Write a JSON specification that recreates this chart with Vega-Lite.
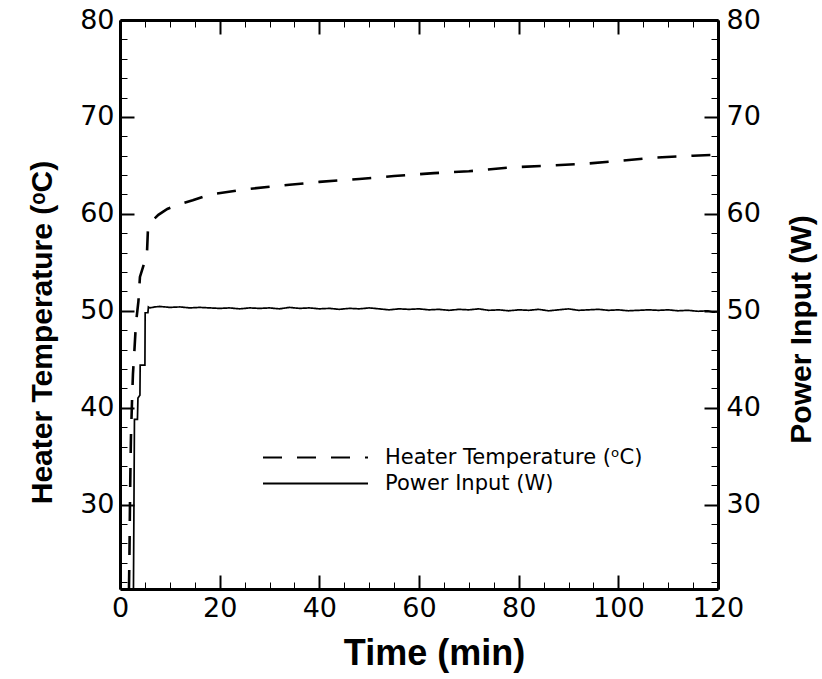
{
  "$schema": "https://vega.github.io/schema/vega-lite/v6.json",
  "width": 598,
  "height": 569,
  "autosize": {"type": "none"},
  "padding": {"left": 120, "top": 20, "right": 104, "bottom": 90},
  "background": "white",
  "config": {
    "view": {"stroke": null},
    "axis": {
      "domainColor": "black", "domainWidth": 3, "tickColor": "black",
      "labelColor": "black", "titleColor": "black", "grid": false,
      "labelFont": "DejaVu Sans", "labelFontSize": 27,
      "titleFont": "Liberation Sans", "titleFontSize": 30, "titleFontWeight": "bold"
    }
  },
  "data": {"values": [
    {"series": "Heater Temperature (ᵒC)", "time": 1.8, "value": 21.3},
    {"series": "Heater Temperature (ᵒC)", "time": 1.9, "value": 25},
    {"series": "Heater Temperature (ᵒC)", "time": 2.0, "value": 30},
    {"series": "Heater Temperature (ᵒC)", "time": 2.1, "value": 34},
    {"series": "Heater Temperature (ᵒC)", "time": 2.2, "value": 37},
    {"series": "Heater Temperature (ᵒC)", "time": 2.4, "value": 40.5},
    {"series": "Heater Temperature (ᵒC)", "time": 2.6, "value": 43.5},
    {"series": "Heater Temperature (ᵒC)", "time": 2.9, "value": 46},
    {"series": "Heater Temperature (ᵒC)", "time": 3.2, "value": 48.7},
    {"series": "Heater Temperature (ᵒC)", "time": 3.7, "value": 51},
    {"series": "Heater Temperature (ᵒC)", "time": 4.0, "value": 53.5},
    {"series": "Heater Temperature (ᵒC)", "time": 5.4, "value": 55.8},
    {"series": "Heater Temperature (ᵒC)", "time": 5.6, "value": 58.3},
    {"series": "Heater Temperature (ᵒC)", "time": 6.5, "value": 59.3},
    {"series": "Heater Temperature (ᵒC)", "time": 7.7, "value": 59.9},
    {"series": "Heater Temperature (ᵒC)", "time": 9.5, "value": 60.5},
    {"series": "Heater Temperature (ᵒC)", "time": 11.4, "value": 60.9},
    {"series": "Heater Temperature (ᵒC)", "time": 14.6, "value": 61.4},
    {"series": "Heater Temperature (ᵒC)", "time": 18, "value": 62.0},
    {"series": "Heater Temperature (ᵒC)", "time": 24.7, "value": 62.5},
    {"series": "Heater Temperature (ᵒC)", "time": 30, "value": 62.8},
    {"series": "Heater Temperature (ᵒC)", "time": 34, "value": 63.0},
    {"series": "Heater Temperature (ᵒC)", "time": 40, "value": 63.3},
    {"series": "Heater Temperature (ᵒC)", "time": 48, "value": 63.6},
    {"series": "Heater Temperature (ᵒC)", "time": 55, "value": 63.9},
    {"series": "Heater Temperature (ᵒC)", "time": 63, "value": 64.2},
    {"series": "Heater Temperature (ᵒC)", "time": 70, "value": 64.4},
    {"series": "Heater Temperature (ᵒC)", "time": 78.7, "value": 64.8},
    {"series": "Heater Temperature (ᵒC)", "time": 86.7, "value": 65.0},
    {"series": "Heater Temperature (ᵒC)", "time": 94, "value": 65.2},
    {"series": "Heater Temperature (ᵒC)", "time": 101, "value": 65.5},
    {"series": "Heater Temperature (ᵒC)", "time": 107, "value": 65.8},
    {"series": "Heater Temperature (ᵒC)", "time": 115, "value": 66.0},
    {"series": "Heater Temperature (ᵒC)", "time": 120, "value": 66.1},
    {"series": "Power Input (W)", "time": 2.7, "value": 21.3},
    {"series": "Power Input (W)", "time": 2.8, "value": 30},
    {"series": "Power Input (W)", "time": 2.9, "value": 38.8},
    {"series": "Power Input (W)", "time": 3.5, "value": 38.8},
    {"series": "Power Input (W)", "time": 3.6, "value": 41.0},
    {"series": "Power Input (W)", "time": 4.0, "value": 41.3},
    {"series": "Power Input (W)", "time": 4.05, "value": 44.4},
    {"series": "Power Input (W)", "time": 5.0, "value": 44.4},
    {"series": "Power Input (W)", "time": 5.05, "value": 49.8},
    {"series": "Power Input (W)", "time": 5.6, "value": 49.8},
    {"series": "Power Input (W)", "time": 5.7, "value": 50.4},
    {"series": "Power Input (W)", "time": 6, "value": 50.3},
    {"series": "Power Input (W)", "time": 7, "value": 50.4},
    {"series": "Power Input (W)", "time": 8, "value": 50.45},
    {"series": "Power Input (W)", "time": 10, "value": 50.35},
    {"series": "Power Input (W)", "time": 12, "value": 50.4},
    {"series": "Power Input (W)", "time": 14, "value": 50.3},
    {"series": "Power Input (W)", "time": 16, "value": 50.35},
    {"series": "Power Input (W)", "time": 18, "value": 50.3},
    {"series": "Power Input (W)", "time": 20, "value": 50.25},
    {"series": "Power Input (W)", "time": 22, "value": 50.3},
    {"series": "Power Input (W)", "time": 24, "value": 50.2},
    {"series": "Power Input (W)", "time": 26, "value": 50.3},
    {"series": "Power Input (W)", "time": 28, "value": 50.25},
    {"series": "Power Input (W)", "time": 30, "value": 50.3},
    {"series": "Power Input (W)", "time": 32, "value": 50.2},
    {"series": "Power Input (W)", "time": 34, "value": 50.35},
    {"series": "Power Input (W)", "time": 36, "value": 50.25},
    {"series": "Power Input (W)", "time": 38, "value": 50.3},
    {"series": "Power Input (W)", "time": 40, "value": 50.2},
    {"series": "Power Input (W)", "time": 42, "value": 50.25},
    {"series": "Power Input (W)", "time": 44, "value": 50.15},
    {"series": "Power Input (W)", "time": 46, "value": 50.25},
    {"series": "Power Input (W)", "time": 48, "value": 50.2},
    {"series": "Power Input (W)", "time": 50, "value": 50.3},
    {"series": "Power Input (W)", "time": 52, "value": 50.2},
    {"series": "Power Input (W)", "time": 54, "value": 50.1},
    {"series": "Power Input (W)", "time": 56, "value": 50.2},
    {"series": "Power Input (W)", "time": 58, "value": 50.15},
    {"series": "Power Input (W)", "time": 60, "value": 50.2},
    {"series": "Power Input (W)", "time": 62, "value": 50.1},
    {"series": "Power Input (W)", "time": 64, "value": 50.15},
    {"series": "Power Input (W)", "time": 66, "value": 50.05},
    {"series": "Power Input (W)", "time": 68, "value": 50.15},
    {"series": "Power Input (W)", "time": 70, "value": 50.1},
    {"series": "Power Input (W)", "time": 72, "value": 50.2},
    {"series": "Power Input (W)", "time": 74, "value": 50.05},
    {"series": "Power Input (W)", "time": 76, "value": 50.1},
    {"series": "Power Input (W)", "time": 78, "value": 50.0},
    {"series": "Power Input (W)", "time": 80, "value": 50.1},
    {"series": "Power Input (W)", "time": 82, "value": 50.05},
    {"series": "Power Input (W)", "time": 84, "value": 50.15},
    {"series": "Power Input (W)", "time": 86, "value": 50.0},
    {"series": "Power Input (W)", "time": 88, "value": 50.1},
    {"series": "Power Input (W)", "time": 90, "value": 50.2},
    {"series": "Power Input (W)", "time": 92, "value": 50.05},
    {"series": "Power Input (W)", "time": 94, "value": 50.1},
    {"series": "Power Input (W)", "time": 96, "value": 50.15},
    {"series": "Power Input (W)", "time": 98, "value": 50.05},
    {"series": "Power Input (W)", "time": 100, "value": 50.1},
    {"series": "Power Input (W)", "time": 102, "value": 50.0},
    {"series": "Power Input (W)", "time": 104, "value": 50.05},
    {"series": "Power Input (W)", "time": 106, "value": 50.1},
    {"series": "Power Input (W)", "time": 108, "value": 50.05},
    {"series": "Power Input (W)", "time": 110, "value": 50.1},
    {"series": "Power Input (W)", "time": 112, "value": 50.0},
    {"series": "Power Input (W)", "time": 114, "value": 50.05},
    {"series": "Power Input (W)", "time": 116, "value": 49.95},
    {"series": "Power Input (W)", "time": 118, "value": 50.0},
    {"series": "Power Input (W)", "time": 119, "value": 49.85},
    {"series": "Power Input (W)", "time": 120, "value": 49.9}
  ]},
  "layer": [
    {
      "transform": [{"filter": "datum.series == 'Heater Temperature (ᵒC)'"}],
      "mark": {"type": "line", "clip": true, "strokeWidth": 2.6, "color": "black"},
      "encoding": {
        "x": {"field": "time", "type": "quantitative",
          "scale": {"domain": [0, 120], "nice": false, "zero": false},
          "axis": {"orient": "bottom", "values": [0, 20, 40, 60, 80, 100, 120], "tickSize": -14, "tickWidth": 2,
            "labelPadding": 20, "labelFlush": false, "title": "Time (min)", "titlePadding": 15, "titleFontSize": 36, "titleX": 314}},
        "y": {"field": "value", "type": "quantitative",
          "scale": {"domain": [21.3, 80], "nice": false, "zero": false},
          "axis": {"orient": "left", "values": [30, 40, 50, 60, 70, 80], "tickSize": -14, "tickWidth": 2,
            "labelPadding": 20, "labelFlush": false, "title": "Heater Temperature (ᵒC)", "titlePadding": 22, "titleY": 312}},
        "strokeDash": {"field": "series", "type": "nominal",
          "scale": {"domain": ["Heater Temperature (ᵒC)", "Power Input (W)"], "range": [[19, 15], [1, 0]]},
          "legend": {"orient": "none", "legendX": 184, "legendY": 426, "title": null,
            "symbolType": "M-5,0L5,0", "symbolSize": 441, "symbolStrokeWidth": 2, "symbolStrokeColor": "black",
            "labelFont": "DejaVu Sans", "labelFontSize": 21, "labelColor": "black", "labelOffset": 58,
            "rowPadding": 4, "padding": 0, "labelLimit": 500}}
      }
    },
    {
      "transform": [{"filter": "datum.series == 'Power Input (W)'"}],
      "mark": {"type": "line", "clip": true, "strokeWidth": 1.7, "color": "black"},
      "encoding": {
        "x": {"field": "time", "type": "quantitative",
          "scale": {"domain": [0, 120], "nice": false, "zero": false},
          "axis": {"orient": "top", "values": [0, 20, 40, 60, 80, 100, 120], "tickSize": -14, "tickWidth": 2,
            "labels": false, "title": null}},
        "y": {"field": "value", "type": "quantitative",
          "scale": {"domain": [21.3, 80], "nice": false, "zero": false},
          "axis": {"orient": "right", "values": [30, 40, 50, 60, 70, 80], "tickSize": -14, "tickWidth": 2,
            "labelPadding": 22, "labelFlush": false, "title": "Power Input (W)", "titlePadding": 26,
            "titleAngle": 270, "titleBaseline": "top", "titleY": 309}},
        "strokeDash": {"field": "series", "type": "nominal",
          "scale": {"domain": ["Heater Temperature (ᵒC)", "Power Input (W)"], "range": [[19, 15], [1, 0]]}}
      }
    },
    {
      "mark": {"type": "line", "opacity": 0},
      "encoding": {
        "x": {"field": "time", "type": "quantitative",
          "scale": {"domain": [0, 120], "nice": false, "zero": false},
          "axis": {"orient": "bottom", "values": [5, 10, 15, 25, 30, 35, 45, 50, 55, 65, 70, 75, 85, 90, 95, 105, 110, 115],
            "tickSize": -7, "tickWidth": 1, "domain": false, "labels": false, "title": null}},
        "y": {"field": "value", "type": "quantitative",
          "scale": {"domain": [21.3, 80], "nice": false, "zero": false},
          "axis": {"orient": "left", "values": [22, 24, 26, 28, 32, 34, 36, 38, 42, 44, 46, 48, 52, 54, 56, 58, 62, 64, 66, 68, 72, 74, 76, 78],
            "tickSize": -7, "tickWidth": 1, "domain": false, "labels": false, "title": null}},
        "detail": {"field": "series"}
      }
    },
    {
      "mark": {"type": "line", "opacity": 0},
      "encoding": {
        "x": {"field": "time", "type": "quantitative",
          "scale": {"domain": [0, 120], "nice": false, "zero": false},
          "axis": {"orient": "top", "values": [5, 10, 15, 25, 30, 35, 45, 50, 55, 65, 70, 75, 85, 90, 95, 105, 110, 115],
            "tickSize": -7, "tickWidth": 1, "domain": false, "labels": false, "title": null}},
        "y": {"field": "value", "type": "quantitative",
          "scale": {"domain": [21.3, 80], "nice": false, "zero": false},
          "axis": {"orient": "right", "values": [22, 24, 26, 28, 32, 34, 36, 38, 42, 44, 46, 48, 52, 54, 56, 58, 62, 64, 66, 68, 72, 74, 76, 78],
            "tickSize": -7, "tickWidth": 1, "domain": false, "labels": false, "title": null}},
        "detail": {"field": "series"}
      }
    }
  ],
  "resolve": {"axis": {"x": "independent", "y": "independent"}}
}
